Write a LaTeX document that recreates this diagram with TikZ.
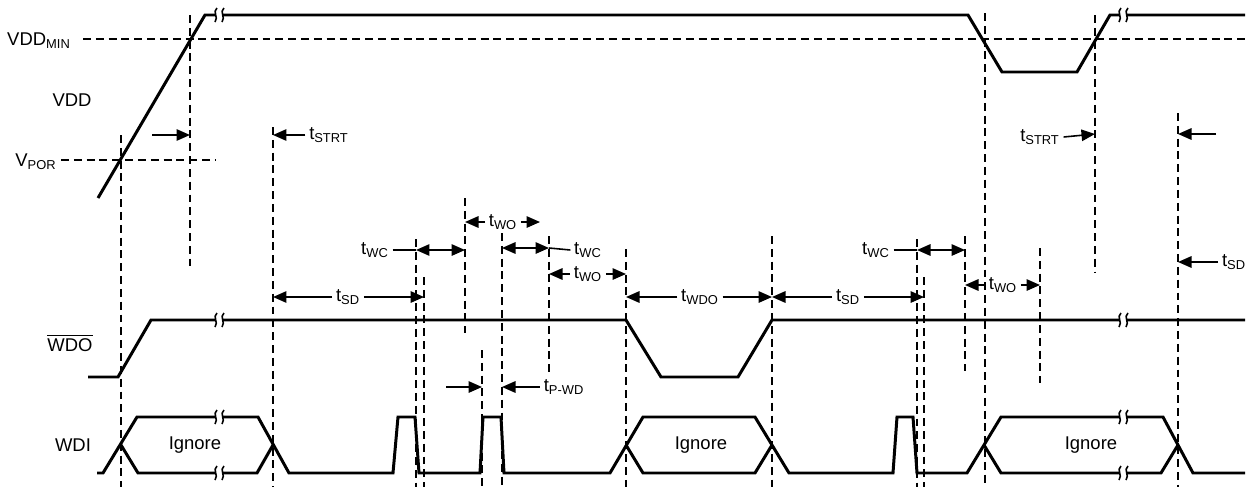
\documentclass[tikz,border=0pt]{standalone}
\usepackage{fontspec}
\setmainfont{Liberation Sans}
\usetikzlibrary{arrows.meta}

\begin{document}
\begin{tikzpicture}[x=0.02cm,y=-0.02cm,
        sig/.style={line width=1.7pt, line join=miter},
        guide/.style={line width=0.8pt, dash pattern=on 4.5pt off 2.8pt},
        dim/.style={line width=0.9pt},
        tip/.style={dim, -{Triangle[length=2.7mm,width=2.3mm]}},
        both/.style={dim, {Triangle[length=2.7mm,width=2.3mm]}-{Triangle[length=2.7mm,width=2.3mm]}},
        lbl/.style={inner sep=2pt, font=\fontsize{10.5}{12}\selectfont},
        brk/.style={line width=0.9pt}]

        \useasboundingbox (0,0) rectangle (1249,487);

        \node[lbl] (vmin) at (39,41) {VDD\textsubscript{MIN}};
        \node[lbl] (vdd) at (72,100) {VDD};
        \node[lbl] (vpor) at (36,162) {V\textsubscript{POR}};
        \node[lbl] (wdo) at (70,343) {$\overline{\mbox{WDO}}$};
        \node[lbl] (wdi) at (73,445) {WDI};

        \draw[guide] (83,39) -- (1249,39);
        \draw[guide] (61,160) -- (215,160);

        \foreach \x/\a/\b in {121/135/487, 190/15/266, 273/127/487, 416/239/487,
                424/277/487, 465/198/333, 482/350/487, 502/233/487, 549/236/373,
                626/249/487, 772/236/487, 917/239/487, 924/277/487, 965/236/371,
                985/13/487, 1040/248/383, 1095/15/273, 1178/113/487}
            \draw[guide] (\x,\a) -- (\x,\b);

        \draw[sig] (98,198) -- (205,15) -- (968,15) -- (1002,72) -- (1077,72)
            -- (1110,15) -- (1245,15);
        \draw[sig] (88,377) -- (118,377) -- (151,320) -- (626,320) -- (661,377)
            -- (738,377) -- (772,320) -- (1245,320);
        \draw[sig] (97,473) -- (103,473) -- (137,417) -- (258,417) -- (289,473)
            -- (393,473) -- (398,417) -- (415,417) -- (419,473)
            -- (480,473) -- (483,417) -- (501,417) -- (504,473)
            -- (610,473) -- (643,417) -- (755,417) -- (789,473)
            -- (893,473) -- (897,417) -- (913,417) -- (917,473)
            -- (967,473) -- (1001,417) -- (1163,417) -- (1193,473) -- (1245,473);
        \draw[sig] (121,445) -- (138,473) -- (257,473) -- (273,445);
        \draw[sig] (626,445) -- (643,473) -- (755,473) -- (772,445);
        \draw[sig] (984,445) -- (1001,473) -- (1161,473) -- (1178,445);

        \foreach \x in {215,1119}
            \foreach \y in {15,320,417,473} {
                \fill[white] (\x,\y-3) rectangle (\x+7,\y+3);
                \draw[brk] (\x+2,\y-7) .. controls (\x-3,\y-3) and (\x+4,\y+2) .. (\x,\y+7);
                \draw[brk] (\x+9,\y-7) .. controls (\x+4,\y-3) and (\x+11,\y+2) .. (\x+7,\y+7);
            }

        \node[lbl] (ign1) at (195,445) {Ignore};
        \node[lbl] (ign2) at (701,445) {Ignore};
        \node[lbl] (ign3) at (1091,445) {Ignore};

        \node[lbl] (lstrt1) at (329,135) {t\textsubscript{STRT}};
        \node[lbl] (lstrt2) at (1040,137) {t\textsubscript{STRT}};
        \node[lbl] (lwc1) at (375,250) {t\textsubscript{WC}};
        \node[lbl] (lwc2) at (588,250) {t\textsubscript{WC}};
        \node[lbl] (lwc3) at (876,250) {t\textsubscript{WC}};
        \node[lbl] (lwo1) at (503,222) {t\textsubscript{WO}};
        \node[lbl] (lwo2) at (588,274) {t\textsubscript{WO}};
        \node[lbl] (lwo3) at (1003,285) {t\textsubscript{WO}};
        \node[lbl] (lsd1) at (348,297) {t\textsubscript{SD}};
        \node[lbl] (lsd2) at (848,297) {t\textsubscript{SD}};
        \node[lbl] (lsd3) at (1234,262) {t\textsubscript{SD}};
        \node[lbl] (lwdo) at (700,297) {t\textsubscript{WDO}};
        \node[lbl] (lpwd) at (564,387) {t\textsubscript{P-WD}};

        \draw[tip] (152,135) -- (190,135);
        \draw[tip] (lstrt1.west) -- (273,135);
        \draw[tip] (lstrt2.east) -- (1095,134);
        \draw[tip] (1216,134) -- (1178,134);

        \draw[dim] (lwc1.east) -- (416,250);
        \draw[both] (416,250) -- (465,250);
        \draw[dim] (lwc2.west) -- (549,248);
        \draw[both] (502,248) -- (549,248);
        \draw[dim] (lwc3.east) -- (917,250);
        \draw[both] (917,250) -- (965,250);

        \draw[tip] (lwo1.west) -- (465,222);
        \draw[tip] (lwo1.east) -- (540,222);
        \draw[tip] (lwo2.west) -- (549,274);
        \draw[tip] (lwo2.east) -- (626,274);
        \draw[tip] (lwo3.west) -- (965,285);
        \draw[tip] (lwo3.east) -- (1040,285);

        \draw[tip] (lsd1.west) -- (273,297);
        \draw[tip] (lsd1.east) -- (424,297);
        \draw[tip] (lwdo.west) -- (626,297);
        \draw[tip] (lwdo.east) -- (772,297);
        \draw[tip] (lsd2.west) -- (772,297);
        \draw[tip] (lsd2.east) -- (924,297);
        \draw[tip] (lsd3.west) -- (1178,262);

        \draw[tip] (446,387) -- (482,387);
        \draw[tip] (lpwd.west) -- (502,387);

\end{tikzpicture}
\end{document}
